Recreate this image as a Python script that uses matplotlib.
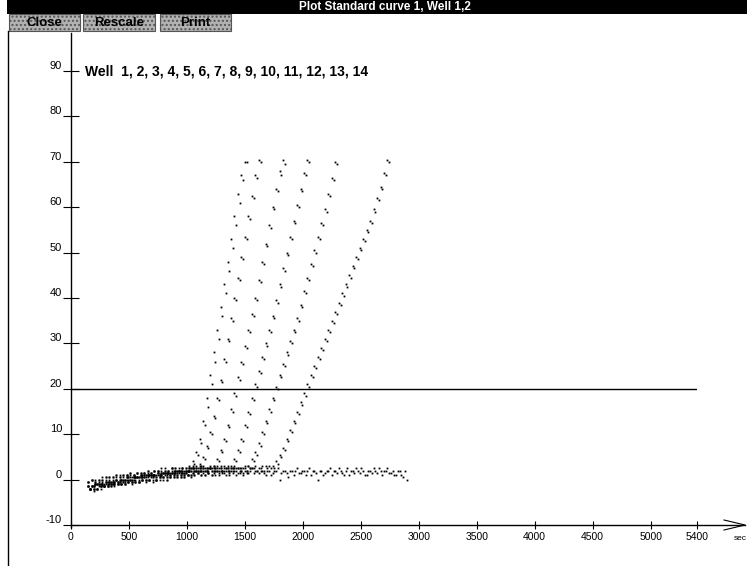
import matplotlib
matplotlib.use('Agg')
import matplotlib.pyplot as plt
import numpy as np
from matplotlib.patches import Rectangle

# each well is read every 30 s, the duplicate well 15 s later
t_start_a = 150
t_start_b = 165
t_step = 30

# standard 1 (wells 1, 2)
well_1 = [-1.5, -1.5, -1, -1.5, -1, -0.5, -1, -0.5, 0, -0.5, 0, 0, 0.5, 0, 0.5, 0.5, 1, 0.5, 1, 1,
          1, 1.5, 1, 1.5, 1.5, 1.5, 2, 1.5, 2,
          2.5, 4, 6, 9, 13, 18, 23, 28, 33, 38, 43, 48, 53, 58, 63, 67, 70]
well_2 = [-2, -2, -2, -1.5, -1.5, -1.5, -1.5, -1, -1, -1, -1, -0.5, -1, -0.5, -0.5, 0, -0.5, 0, 0, 0,
          0.5, 0, 0.5, 0.5, 1, 0.5, 0.5, 1, 1,
          2.5, 3.5, 5.5, 8, 12, 16, 21, 26, 31, 36, 41, 46, 51, 56, 61, 66, 70]
# standard 2 (wells 3, 4)
well_3 = [-0.5, 0, -0.5, 0, 0, 0.5, 0.5, 0, 0.5, 1, 0.5, 1, 1, 1, 1.5, 1, 1.5, 1.5, 1.5, 2,
          2, 1.5, 2, 2, 2.5, 2, 2.5, 2.5, 2, 2.5, 2.5, 3,
          3.5, 5, 7.5, 10.5, 14, 18, 22, 26.5, 31, 35.5, 40, 44.5, 49, 53.5, 58, 62.5, 67, 70.5]
well_4 = [-2, -1.5, -1, -1, -1.5, -0.5, -1, -0.5, -0.5, 0, 0, 0, 0.5, 0.5, 0, 1, 0.5, 1, 1, 1,
          1, 1.5, 1.5, 1, 1.5, 2, 2, 1.5, 2, 2, 2.5, 2,
          3, 4.5, 7, 10, 13.5, 17.5, 21.5, 26, 30.5, 35, 39.5, 44, 48.5, 53, 57.5, 62, 66.5, 70]
# standard 3 (wells 5, 6)
well_5 = [-1.5, -1.5, -1, -1, -0.5, -1, -0.5, -0.5, 0, -0.5, 0, 0.5, 0, 0.5, 0.5, 1, 0.5, 1, 1, 1,
          1.5, 1, 1.5, 1.5, 1.5, 2, 2, 1.5, 2, 2, 1.5, 2, 2.5, 2, 2, 2.5,
          3, 4.5, 6.5, 9, 12, 15.5, 19, 22.5, 26, 29.5, 33, 36.5, 40, 44, 48, 52, 56, 60, 64, 68, 70.5]
well_6 = [-2, -2.5, -2, -2, -1.5, -1.5, -1.5, -1, -1, -1, -1, -0.5, -0.5, -0.5, -0.5, 0, 0, 0, -0.5, 0,
          0, 0.5, 0, 0.5, 1, 0.5, 0.5, 1, 1, 0.5, 1, 1.5, 1, 1, 1.5, 1,
          2.5, 4, 6, 8.5, 11.5, 15, 18.5, 22, 25.5, 29, 32.5, 36, 39.5, 43.5, 47.5, 51.5, 55.5, 59.5,
          63.5, 67, 69.5]
# standard 4 (wells 7, 8)
well_7 = [-0.5, 0, -0.5, 0, 0.5, 0, 0.5, 0.5, 1, 0.5, 1, 1, 1.5, 1, 1.5, 1.5, 1.5, 2, 1.5, 2,
          2, 2.5, 2, 2, 2.5, 2.5, 2, 2.5, 2.5, 3, 2.5, 2.5, 3, 2.5, 2.5, 3, 2.5, 3, 2.5, 3, 2.5,
          3, 4.5, 6.5, 9, 12, 15, 18, 21, 24, 27, 30, 33, 36, 39.5, 43, 46.5, 50, 53.5, 57, 60.5, 64,
          67.5, 70.5]
well_8 = [-2, -1.5, -1, -1, -1.5, -1, -0.5, -0.5, -0.5, 0, 0, 0.5, 0, 0.5, 0.5, 0.5, 1, 1, 1, 0.5,
          1, 1.5, 1.5, 1, 1.5, 2, 2, 1.5, 2, 2.5, 2, 2, 2.5, 2, 2, 2.5, 2, 2.5, 2, 2.5, 2,
          2.5, 4, 6, 8.5, 11.5, 14.5, 17.5, 20.5, 23.5, 26.5, 29.5, 32.5, 35.5, 39, 42.5, 46, 49.5, 53,
          56.5, 60, 63.5, 67, 70]
# standard 5 (wells 9, 10)
well_9 = [-1.5, -1.5, -1, -1, -1, -0.5, -0.5, -1, 0, 0, -0.5, 0.5, 0, 0.5, 0.5, 0.5, 1, 1, 0.5, 1,
          1.5, 1, 1.5, 1.5, 2, 1.5, 2, 2, 1.5, 2, 2.5, 2, 2, 2.5, 2, 2.5, 2, 2, 2.5, 2, 2.5, 2, 2.5,
          2.5, 2, 2.5,
          3, 4.5, 6, 8, 10.5, 13, 15.5, 18, 20.5, 23, 25.5, 28, 30.5, 33, 35.5, 38.5, 41.5, 44.5,
          47.5, 50.5, 53.5, 56.5, 59.5, 63, 66.5, 70]
well_10 = [-2, -2, -2, -1.5, -1.5, -1.5, -1, -1, -1, -1, -0.5, -0.5, -0.5, 0, -0.5, 0, 0, 0, 0.5, 0,
           0.5, 0.5, 0, 0.5, 0.5, 1, 1, 0.5, 1, 1, 1, 1.5, 1, 1, 1.5, 1, 1, 1.5, 1.5, 1, 1, 1.5, 1,
           1.5, 1, 1.5,
           2.5, 4, 5.5, 7.5, 10, 12.5, 15, 17.5, 20, 22.5, 25, 27.5, 30, 32.5, 35, 38, 41, 44, 47,
           50, 53, 56, 59, 62.5, 66, 69.5]
# standard 6 (wells 11, 12)
well_11 = [-0.5, 0, 0, -0.5, 0, 0.5, 0, 0.5, 1, 0.5, 1, 1, 1.5, 1, 1.5, 1.5, 1.5, 2, 1.5, 2,
           2, 2, 2.5, 2, 2.5, 2.5, 2, 2.5, 2.5, 2.5, 3, 2.5, 2.5, 3, 2.5, 2.5, 3, 2.5, 3, 2.5, 3, 2.5,
           3, 2.5, 2.5, 3, 3, 2.5, 3, 2.5, 3, 3, 3,
           3, 4, 5.5, 7, 9, 11, 13, 15, 17, 19, 21, 23, 25, 27, 29, 31, 33, 35, 37, 39, 41, 43, 45,
           47, 49, 51, 53, 55, 57, 59.5, 62, 64.5, 67.5, 70.5]
well_12 = [-2, -1.5, -1, -1.5, -1, -1, -0.5, -0.5, -0.5, 0, 0, 0.5, 0, 0.5, 0.5, 0.5, 1, 1, 1, 0.5,
           1, 1.5, 1, 1.5, 2, 1.5, 1.5, 2, 2, 2, 2, 2.5, 2, 2, 2.5, 2, 2.5, 2, 2, 2.5, 2, 2.5, 2,
           2.5, 2.5, 2, 2, 2.5, 2, 2.5, 2, 2.5, 2.5,
           2.5, 3.5, 5, 6.5, 8.5, 10.5, 12.5, 14.5, 16.5, 18.5, 20.5, 22.5, 24.5, 26.5, 28.5, 30.5,
           32.5, 34.5, 36.5, 38.5, 40.5, 42.5, 44.5, 46.5, 48.5, 50.5, 52.5, 54.5, 56.5, 59, 61.5,
           64, 67, 70]
# negative control (wells 13, 14)
well_13 = [-1.5, -1.5, -1, -1, -1, -0.5, -0.5, -1, 0, 0, -0.5, 0.5, 0, 0.5, 0.5, 1, 0.5, 1, 1, 1,
           1.5, 1, 1.5, 1.5, 1.5, 2, 1.5, 2, 1.5, 2,
           1.5, 2, 2, 1.5, 2, 2.5, 1.5, 2, 2, 1.5, 2, 2.5, 2, 1.5, 2, 2, 1.5, 2.5, 2, 1.5,
           2, 1, 2, 1.5, 2, 0, 2, 1.5, 2, 1, 2.5, 1.5, 2, 2, 1, 2, 0, 2, 1.5, 2,
           1, 2, 2.5, 1.5, 2, 1, 2, 2.5, 1.5, 2, 1, 2, 2.5, 1.5, 2, 2, 2.5, 1.5, 1, 2, 1, 2]
well_14 = [-2, -2, -2, -1.5, -1.5, -1.5, -1, -1.5, -1, -1, -1, -0.5, -0.5, -0.5, -0.5, 0, 0, 0, 0.5, 0,
           0.5, 0.5, 0.5, 1, 0.5, 1, 1, 0.5, 1, 1,
           2, 1.5, 2, 2.5, 1.5, 2, 2, 1, 2, 2, 1.5, 2, 2.5, 2, 1.5, 2, 2.5, 1.5, 2, 2,
           1.5, 2, 1, 2, 2.5, 1.5, 2, 0.5, 2, 2, 1.5, 2, 1, 2.5, 2, 1.5, 2, 1, 2, 2.5,
           2, 1.5, 2, 1, 2.5, 2, 1.5, 2, 2.5, 1, 2, 1.5, 2, 2.5, 1, 2, 1.5, 2, 1, 2, 0.5, 0]

wells = [well_1, well_2, well_3, well_4, well_5, well_6, well_7,
         well_8, well_9, well_10, well_11, well_12, well_13, well_14]
threshold = 20
x_ticks = [0, 500, 1000, 1500, 2000, 2500, 3000, 3500, 4000, 4500, 5000, 5400]
y_ticks = [-10, 0, 10, 20, 30, 40, 50, 60, 70, 80, 90]

plt.rcParams['font.family'] = ['Liberation Sans', 'DejaVu Sans']
plt.rcParams['hatch.color'] = '#8a8a8a'
narrow = ['Liberation Sans Narrow', 'Liberation Sans', 'DejaVu Sans']

fig = plt.figure(figsize=(7.47, 5.66), dpi=100)

# window chrome, drawn in pixel coordinates
ui = fig.add_axes([0, 0, 1, 1])
ui.set_xlim(0, 747)
ui.set_ylim(566, 0)
ui.axis('off')
ui.add_patch(Rectangle((7, 0), 740, 14, facecolor='black', edgecolor='none'))
ui.text(385, 7.5, 'Plot Standard curve 1, Well 1,2', color='white', fontsize=8.5,
        fontweight='bold', ha='center', va='center')
for x0, w, name in [(9, 71, 'Close'), (83, 72, 'Rescale'), (160, 71, 'Print')]:
    ui.add_patch(Rectangle((x0, 14), w, 17, facecolor='#b2b2b2', edgecolor='#555555',
                           lw=0.8, hatch='....'))
    ui.text(x0 + w / 2, 22.5, name, fontsize=9.5, fontweight='bold', ha='center', va='center')
ui.plot([8, 8], [31, 566], color='black', lw=1)
# axis lines with the arrow at the end of the time axis
ui.plot([71, 71], [33, 527], color='black', lw=1)
ui.plot([71, 745], [525, 525], color='black', lw=1)
ui.plot([724, 745, 724], [520, 525, 530], color='black', lw=0.8)
ui.text(734, 538, 'sec', fontsize=6, ha='left', va='center')
ui.text(85, 71, 'Well  1, 2, 3, 4, 5, 6, 7, 8, 9, 10, 11, 12, 13, 14', fontsize=10,
        fontweight='bold', ha='left', va='center')

# data axes
ax = fig.add_axes([71 / 747, 41 / 566, 626 / 747, 454 / 566])
ax.patch.set_visible(False)
for sp in ax.spines.values():
    sp.set_visible(False)
ax.set_xlim(0, 5400)
ax.set_ylim(-10, 90)

for i, vals in enumerate(wells):
    start = t_start_a if i % 2 == 0 else t_start_b
    t = start + t_step * np.arange(len(vals))
    ax.plot(t, vals, linestyle='none', marker='s', ms=1.3, mfc='black', mec='none')

ax.plot([0, 5400], [threshold, threshold], color='black', lw=1)

ax.set_xticks(x_ticks)
ax.set_xticklabels([str(v) for v in x_ticks], family=narrow, fontsize=7.5)
ax.set_yticks(y_ticks)
ax.set_yticklabels([str(v) for v in y_ticks], family=narrow, fontsize=8)
ax.tick_params(axis='x', direction='inout', length=6, width=0.8, pad=2)
ax.tick_params(axis='y', direction='inout', length=11, width=0.8, pad=1)
for lab in ax.get_yticklabels():
    lab.set_va('bottom')

fig.savefig('out.png', dpi=100)
